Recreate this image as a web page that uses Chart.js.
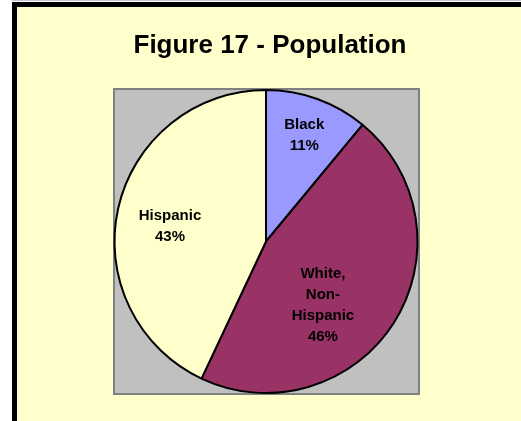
<!DOCTYPE html>
<html>
<head>
<meta charset="utf-8">
<script src="https://cdn.jsdelivr.net/npm/chart.js@4.4.1/dist/chart.umd.min.js"></script>
<style>
    html, body { margin: 0; padding: 0; background: #ffffff; overflow: hidden; }
    #topline { position: absolute; left: 12px; top: 0; width: 520px; height: 1px; background: #c8c8c8; }
    #frame { position: absolute; left: 12px; top: 2px; width: 600px; height: 500px;
             border: 5px solid #000000; background: #ffffcc; }
    #wrap { position: absolute; left: 0; top: 0; width: 521px; height: 421px; }
</style>
</head>
<body>
<div id="topline"></div>
<div id="frame"></div>
<div id="wrap"><canvas id="popChart" width="521" height="421"></canvas></div>
<script>
const categories = ['Black', 'White, Non-Hispanic', 'Hispanic'];
const shares = [11, 46, 43];
const labelLines = [['Black'], ['White,', 'Non-', 'Hispanic'], ['Hispanic']];
const sliceColors = ['#9999ff', '#993366', '#ffffcc'];

// where each label sits: fraction of radius, angle nudge in degrees
const labelPlace = [
    { r: 0.746, da: 0 },
    { r: 0.566, da: 16 },
    { r: 0.642, da: -3.4 }
];

const font = '"Liberation Sans", Arial, sans-serif';

const plotBackground = {
    id: 'plotBackground',
    beforeDraw(chart) {
        const ctx = chart.ctx;
        const a = chart.chartArea;
        const x0 = a.left - 0.5, y0 = a.top - 1, x1 = a.right + 1.5, y1 = a.bottom + 1;
        ctx.save();
        ctx.fillStyle = '#c0c0c0';
        ctx.fillRect(x0, y0, x1 - x0, y1 - y0);
        ctx.strokeStyle = '#808080';
        ctx.lineWidth = 2;
        ctx.strokeRect(x0 + 1, y0 + 1, x1 - x0 - 2, y1 - y0 - 2);
        ctx.restore();

        ctx.save();
        ctx.fillStyle = '#000000';
        ctx.font = 'bold 26px ' + font;
        ctx.textAlign = 'center';
        ctx.textBaseline = 'alphabetic';
        ctx.fillText('Figure 17 - Population', 270, 53);
        ctx.restore();
    }
};

const sliceLabels = {
    id: 'sliceLabels',
    afterDatasetsDraw(chart) {
        const ctx = chart.ctx;
        const meta = chart.getDatasetMeta(0);
        ctx.save();
        ctx.fillStyle = '#000000';
        ctx.font = 'bold 15px ' + font;
        ctx.textAlign = 'center';
        ctx.textBaseline = 'middle';
        meta.data.forEach((arc, i) => {
            const p = arc.getProps(['x', 'y', 'startAngle', 'endAngle', 'outerRadius'], true);
            const mid = (p.startAngle + p.endAngle) / 2 + labelPlace[i].da * Math.PI / 180;
            const d = p.outerRadius * labelPlace[i].r;
            const cx = p.x + Math.cos(mid) * d;
            const cy = p.y + Math.sin(mid) * d;
            const lines = labelLines[i].concat([shares[i] + '%']);
            const lh = 21;
            lines.forEach((t, k) => {
                ctx.fillText(t, cx, cy + (k - (lines.length - 1) / 2) * lh);
            });
        });
        ctx.restore();
    }
};

const ctx = document.getElementById('popChart').getContext('2d');
const popChart = new Chart(ctx, {
    type: 'pie',
    data: {
        labels: categories,
        datasets: [{
            data: shares,
            backgroundColor: sliceColors,
            borderColor: '#000000',
            borderWidth: 2,
            hoverOffset: 0
        }]
    },
    options: {
        responsive: false,
        animation: false,
        layout: {
            padding: { left: 113.5, right: 102.5, top: 89, bottom: 27 }
        },
        plugins: {
            legend: { display: false },
            title: { display: false },
            tooltip: { enabled: false }
        }
    },
    plugins: [plotBackground, sliceLabels]
});
</script>
</body>
</html>
